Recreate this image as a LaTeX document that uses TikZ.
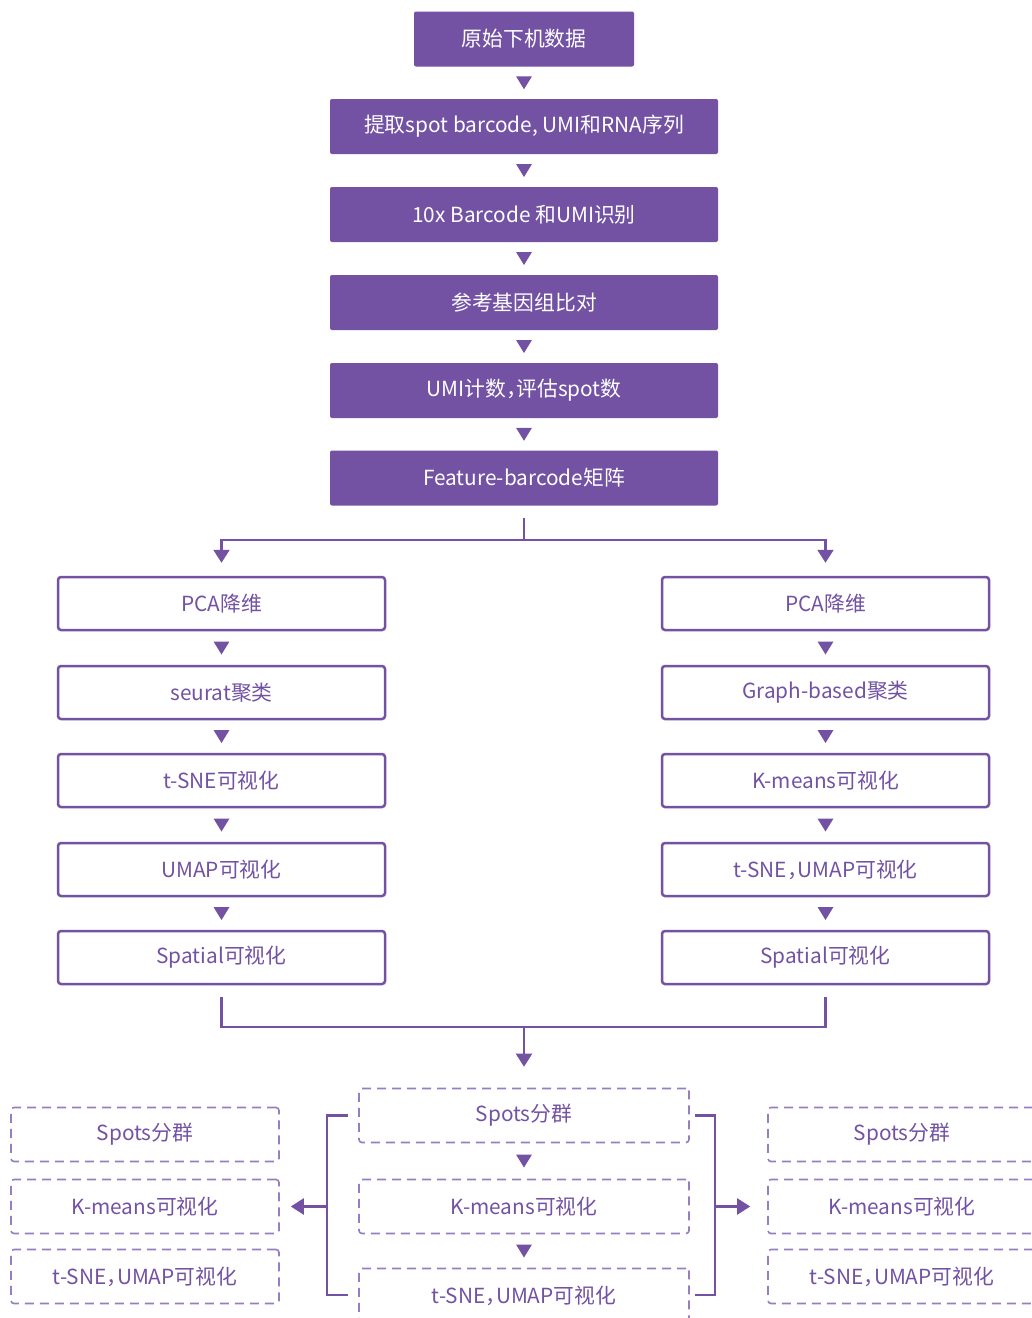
\documentclass[tikz,border=0pt]{standalone}
\usepackage{fontspec}
\setmainfont{Noto Sans CJK SC}
\usetikzlibrary{arrows.meta,calc}
\definecolor{pc}{RGB}{115,82,163}
\definecolor{pcl}{RGB}{150,126,192}
\newcommand\tridown[2]{\fill[pc] ($(#1.south)!0.5!(#2.north)+(-8,-6.5)$) -- ++(16,0) -- ++(-8,13) -- cycle;}
\newcommand\zhcomma{，\hspace{-0.5em}}
\begin{document}
\begin{tikzpicture}[x=1pt,y=-1pt,
  every node/.style={font=\fontsize{20.8}{25}\selectfont, inner sep=0pt},
  fbox/.style={fill=pc,text=white,minimum height=55pt,rounded corners=2pt},
  obox/.style={draw=pc,line width=2.5pt,text=pc,minimum width=327pt,minimum height=53pt,rounded corners=3pt},
  dbox/.style={draw=pcl,line width=1.6pt,dash pattern=on 9pt off 6pt,text=pc,minimum height=54pt,rounded corners=3pt},
  conn/.style={draw=pc,line width=2.2pt},
  arr/.style={conn,-{Triangle[width=16pt,length=13pt]}},
]
\useasboundingbox (0,0) rectangle (1032,1318);
\clip (0,0) rectangle (1032,1318);
\fill[white] (0,0) rectangle (1032,1318);

% top column
\node[fbox,minimum width=220pt] (t1) at (524,39) {原始下机数据};
\node[fbox,minimum width=388pt] (t2) at (524,126.5) {提取spot barcode, UMI和RNA序列};
\node[fbox,minimum width=388pt] (t3) at (524,214.5) {10x Barcode 和UMI识别};
\node[fbox,minimum width=388pt] (t4) at (524,302.5) {参考基因组比对};
\node[fbox,minimum width=388pt] (t5) at (524,390.5) {UMI计数\zhcomma 评估spot数};
\node[fbox,minimum width=388pt] (t6) at (524,478) {Feature-barcode矩阵};
\tridown{t1}{t2}
\tridown{t2}{t3}
\tridown{t3}{t4}
\tridown{t4}{t5}
\tridown{t5}{t6}

% left column
\node[obox] (l1) at (221.5,603.5) {PCA降维};
\node[obox] (l2) at (221.5,692.5) {seurat聚类};
\node[obox] (l3) at (221.5,780.5) {t-SNE可视化};
\node[obox] (l4) at (221.5,869.5) {UMAP可视化};
\node[obox] (l5) at (221.5,957.5) {Spatial可视化};
\tridown{l1}{l2}
\tridown{l2}{l3}
\tridown{l3}{l4}
\tridown{l4}{l5}

% right column
\node[obox] (r1) at (825.5,603.5) {PCA降维};
\node[obox] (r2) at (825.5,692.5) {Graph-based聚类};
\node[obox] (r3) at (825.5,780.5) {K-means可视化};
\node[obox] (r4) at (825.5,869.5) {t-SNE\zhcomma UMAP可视化};
\node[obox] (r5) at (825.5,957.5) {Spatial可视化};
\tridown{r1}{r2}
\tridown{r2}{r3}
\tridown{r3}{r4}
\tridown{r4}{r5}

% split
\coordinate (split) at (524,540);
\draw[conn] ($(t6.south)+(0,12)$) -- (split);
\draw[arr,shorten >=13pt] (split) -| (l1.north);
\draw[arr,shorten >=13pt] (split) -| (r1.north);

% merge
\coordinate (merge) at (524,1027);
\draw[conn] ($(l5.south)+(0,12)$) |- (merge) -| ($(r5.south)+(0,12)$);

% bottom middle
\node[dbox,minimum width=330pt] (m1) at (524,1115.5) {Spots分群};
\node[dbox,minimum width=330pt] (m2) at (524,1206.5) {K-means可视化};
\node[dbox,minimum width=330pt] (m3) at (524,1295.5) {t-SNE\zhcomma UMAP可视化};
\tridown{m1}{m2}
\tridown{m2}{m3}
\draw[arr,shorten >=21pt] (merge) -- (m1.north);

% bottom left
\node[dbox,minimum width=268pt] (bl1) at (145,1134.5) {Spots分群};
\node[dbox,minimum width=268pt] (bl2) at (145,1206.5) {K-means可视化};
\node[dbox,minimum width=268pt] (bl3) at (145,1276.5) {t-SNE\zhcomma UMAP可视化};

% bottom right
\node[dbox,minimum width=268pt] (br1) at (902,1134.5) {Spots分群};
\node[dbox,minimum width=268pt] (br2) at (902,1206.5) {K-means可视化};
\node[dbox,minimum width=268pt] (br3) at (902,1276.5) {t-SNE\zhcomma UMAP可视化};

% brackets
\draw[conn] ($(m1.west)+(-10,0)$) -- ++(-21,0) |- ($(m3.west)+(-10,-0.5)$);
\draw[arr,shorten >=11pt] ($(m2.west)+(-31,0)$) -- (bl2.east);
\draw[conn] ($(m1.east)+(5,0)$) -- ++(20,0) |- ($(m3.east)+(5,-0.5)$);
\draw[arr,shorten >=17pt] ($(m2.east)+(25,0)$) -- (br2.west);
\end{tikzpicture}
\end{document}
